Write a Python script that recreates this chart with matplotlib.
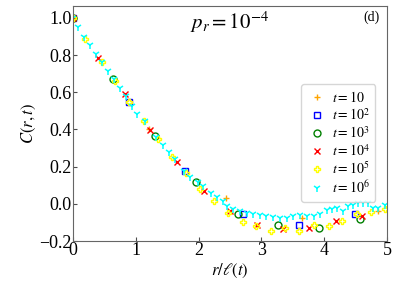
import matplotlib
matplotlib.use("Agg")
import matplotlib.pyplot as plt

plt.rcParams['font.family'] = ['Liberation Serif', 'DejaVu Serif']
plt.rcParams['mathtext.fontset'] = 'stix'

# t = 10
x_t1 = [0.0, 1.215, 2.43, 3.65, 4.86]
y_t1 = [1.0, 0.40, 0.029, -0.074, -0.038]
# t = 10^2
x_t2 = [0.0, 0.89, 1.79, 2.70, 3.60, 4.49]
y_t2 = [1.0, 0.548, 0.175, -0.052, -0.113, -0.056]
# t = 10^3
x_t3 = [0.0, 0.64, 1.31, 1.96, 2.62, 3.27, 3.92, 4.57]
y_t3 = [1.0, 0.67, 0.364, 0.115, -0.056, -0.113, -0.128, -0.083]
# t = 10^4
x_t4 = [0.0, 0.40, 0.83, 1.23, 1.66, 2.09, 2.50, 2.93, 3.34, 3.76, 4.18, 4.60]
y_t4 = [1.0, 0.782, 0.588, 0.398, 0.223, 0.07, -0.038, -0.113, -0.137, -0.131, -0.092, -0.065]
# t = 10^5
x_t5 = [0.0, 0.19, 0.457, 0.67, 0.89, 1.135, 1.35, 1.58, 1.80, 2.02, 2.25, 2.47,
        2.70, 2.92, 3.15, 3.38, 3.60, 3.84, 4.07, 4.29, 4.52, 4.75, 4.97]
y_t5 = [1.0, 0.885, 0.764, 0.66, 0.548, 0.443, 0.35, 0.25, 0.164, 0.079, 0.016, -0.05,
        -0.096, -0.119, -0.146, -0.128, -0.146, -0.113, -0.119, -0.092, -0.052, -0.043, -0.029]
# t = 10^6
x_t6 = [0.0, 0.085, 0.175, 0.27, 0.366, 0.46, 0.56, 0.65, 0.75, 0.85, 0.94, 1.02,
        1.15, 1.32, 1.43, 1.53, 1.63, 1.76, 1.86, 1.99, 2.07, 2.20, 2.29, 2.39,
        2.45, 2.55, 2.66, 2.77, 2.87, 2.98, 3.08, 3.19, 3.30, 3.40, 3.51, 3.61,
        3.72, 3.83, 3.93, 4.04, 4.12, 4.20, 4.30, 4.38, 4.46, 4.54, 4.62, 4.70,
        4.78, 4.86, 4.97]
y_t6 = [1.0, 0.953, 0.899, 0.854, 0.805, 0.76, 0.714, 0.67, 0.625, 0.58, 0.524, 0.485,
        0.445, 0.358, 0.317, 0.277, 0.242, 0.178, 0.142, 0.115, 0.097, 0.061, 0.039, 0.016,
        -0.009, -0.029, -0.038, -0.049, -0.056, -0.059, -0.065, -0.070, -0.077, -0.074, -0.065, -0.061,
        -0.065, -0.065, -0.052, -0.034, -0.029, -0.023, -0.038, -0.011, -0.007, 0.002, 0.007, 0.002,
        -0.020, -0.020, -0.005]

fig = plt.figure(figsize=(3.99, 2.88), dpi=100)
ax = fig.add_axes([0.183, 0.163, 0.787, 0.817])

ms = 5
ax.plot(x_t1, y_t1, '+', color='orange', ms=ms, mew=1, label=r'$t=10$')
ax.plot(x_t2, y_t2, 's', mfc='none', mec='blue', ms=ms, mew=1, label=r'$t=10^2$')
ax.plot(x_t3, y_t3, 'o', mfc='none', mec='green', ms=ms, mew=1, label=r'$t=10^3$')
ax.plot(x_t4, y_t4, 'x', color='red', ms=ms, mew=1, label=r'$t=10^4$')
ax.plot(x_t5, y_t5, 'P', mfc='none', mec='yellow', ms=ms, mew=1, label=r'$t=10^5$')
ax.plot(x_t6, y_t6, '1', color='cyan', ms=ms + 1, mew=1.1, label=r'$t=10^6$')

ax.set_xlim(0, 5)
ax.set_ylim(-0.2, 1.065)
ax.set_xticks([0, 1, 2, 3, 4, 5])
ax.set_yticks([-0.2, 0.0, 0.2, 0.4, 0.6, 0.8, 1.0])
ax.tick_params(direction='in', labelsize=13, length=3, color='0.3', pad=1)
for s in ax.spines.values():
    s.set_color('0.4')

ax.set_xlabel(r'$r/\ell(t)$', fontsize=12, labelpad=2)
ax.set_ylabel(r'$C(r,t)$', fontsize=12, labelpad=1)
ax.text(0.5, 0.93, r'$p_r=10^{-4}$', transform=ax.transAxes, ha='center', va='center', fontsize=15)
ax.text(0.975, 0.95, '(d)', transform=ax.transAxes, ha='right', va='center', fontsize=10)

ax.legend(loc='upper right', bbox_to_anchor=(0.985, 0.695), fontsize=10, handletextpad=0.3,
          borderpad=0.4, labelspacing=0.15, handlelength=1.5, framealpha=0.8)

fig.savefig('out.png', dpi=100)
